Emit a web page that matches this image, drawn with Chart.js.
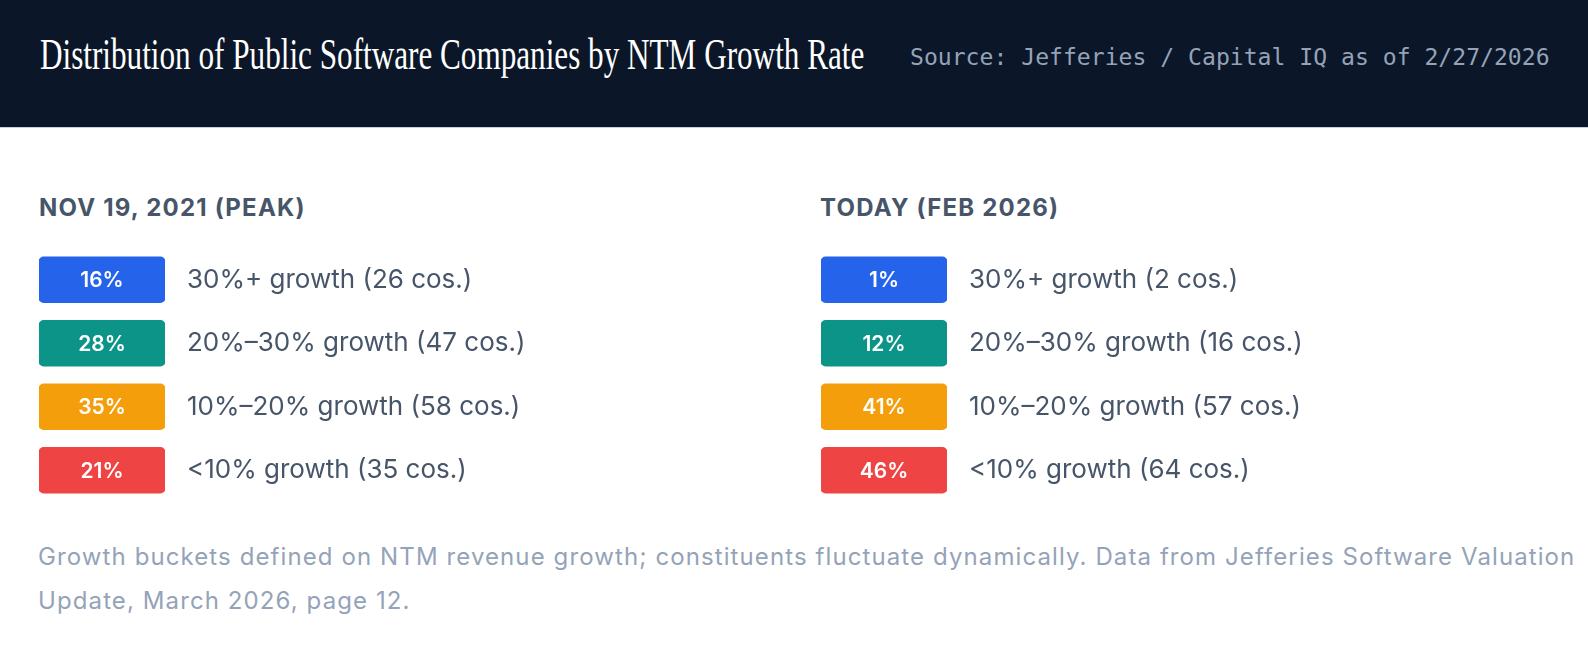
<!DOCTYPE html>
<html>
<head>
<meta charset="utf-8">
<script src="https://cdn.jsdelivr.net/npm/chart.js@4.4.1/dist/chart.umd.min.js"></script>
<style>
  html, body { margin: 0; padding: 0; }
  body { width: 1588px; height: 653px; overflow: hidden; position: relative; background: #fff; font-family: Inter, sans-serif; }
  .header { position: absolute; left: 0; top: 0; width: 1588px; height: 127px; background: #0b1628; border-bottom: 1px solid #c9cfd8; overflow: hidden; }
  .title { position: absolute; left: 40px; top: 33px; font-family: "Liberation Serif", serif; font-size: 44px; line-height: 44px; color: #fff; white-space: nowrap; transform-origin: left top; }
  .source { position: absolute; left: 910px; top: 46px; font-family: "DejaVu Sans Mono", monospace; font-size: 23.1px; line-height: 23px; color: #94a3b8; white-space: nowrap; }
  .heading { position: absolute; top: 196px; font-size: 24px; line-height: 24px; font-weight: 700; letter-spacing: 1.2px; color: #475569; white-space: nowrap; }
  .badges { position: absolute; top: 248px; }
  .note { position: absolute; left: 38px; top: 535px; font-size: 24px; line-height: 44px; letter-spacing: 1.1px; color: #94a3b8; white-space: nowrap; }
</style>
</head>
<body>
<div class="header">
  <span class="title" id="title">Distribution of Public Software Companies by NTM Growth Rate</span>
  <span class="source">Source: Jefferies / Capital IQ as of 2/27/2026</span>
</div>
<div class="heading" style="left:39px">NOV 19, 2021 (PEAK)</div>
<div class="heading" style="left:820px">TODAY (FEB 2026)</div>
<canvas class="badges" id="peak" width="720" height="254" style="left:39px"></canvas>
<canvas class="badges" id="today" width="720" height="254" style="left:821px"></canvas>
<div class="note">Growth buckets defined on NTM revenue growth; constituents fluctuate dynamically. Data from Jefferies Software Valuation<br>Update, March 2026, page 12.</div>
<script>
// growth buckets, shares (%) and company counts
const buckets = ['30%+', '20%–30%', '10%–20%', '<10%'];
const peakShare = [16, 28, 35, 21];
const peakCount = [26, 47, 58, 35];
const todayShare = [1, 12, 41, 46];
const todayCount = [2, 16, 57, 64];
const bucketColors = ['#2563eb', '#0d9488', '#f59e0b', '#ef4444'];

// condense the serif title to the header width
const title = document.getElementById('title');
title.style.transform = 'scaleX(' + (824 / title.offsetWidth) + ')';

// writes the share inside each badge
const badgeText = {
  id: 'badgeText',
  afterDatasetsDraw(chart, args, opts) {
    const ctx = chart.ctx;
    const meta = chart.getDatasetMeta(0);
    ctx.save();
    ctx.fillStyle = '#fff';
    ctx.font = '600 21px Inter';
    ctx.textAlign = 'center';
    ctx.textBaseline = 'middle';
    meta.data.forEach((bar, i) => {
      const p = bar.getProps(['x', 'base', 'y'], true);
      ctx.fillText(opts.values[i] + '%', (p.x + p.base) / 2, p.y + 1);
    });
    ctx.restore();
  }
};

function makeBadges(id, share, count) {
  const canvas = document.getElementById(id);
  return new Chart(canvas, {
    type: 'bar',
    data: {
      labels: buckets.map((b, i) => `${b} growth (${count[i]} cos.)`),
      datasets: [{
        // every badge has the same length, the share is written inside
        data: share.map(() => [0, 1]),
        backgroundColor: bucketColors,
        borderRadius: 5,
        borderSkipped: false,
        barThickness: 46
      }]
    },
    options: {
      indexAxis: 'y',
      responsive: false,
      animation: false,
      devicePixelRatio: 1,
      layout: { padding: 0 },
      plugins: {
        legend: { display: false },
        tooltip: { enabled: false },
        badgeText: { values: share }
      },
      scales: {
        x: { min: 0, max: 1, display: false },
        y: {
          position: 'right',
          grid: { display: false, drawTicks: false },
          border: { display: false },
          ticks: { padding: 22, color: '#475569', font: { family: 'Inter', size: 26 } },
          afterFit: (s) => {
            s.width = canvas.width - 126;
            s.paddingTop = 0;
            s.paddingBottom = 0;
          }
        }
      }
    },
    plugins: [badgeText]
  });
}

makeBadges('peak', peakShare, peakCount);
makeBadges('today', todayShare, todayCount);
</script>
</body>
</html>
